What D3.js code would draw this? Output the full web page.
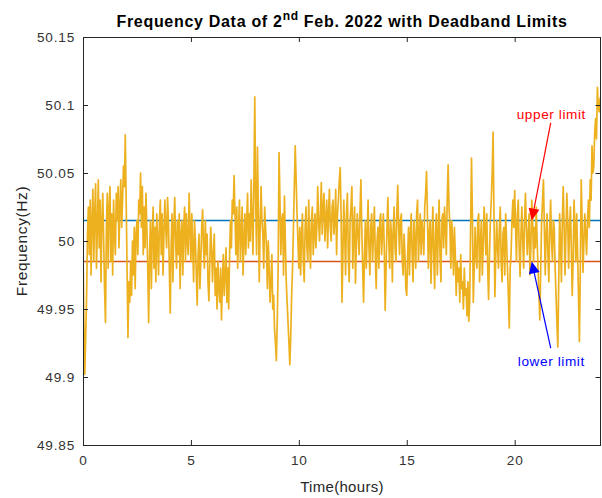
<!DOCTYPE html>
<html>
<head>
<meta charset="utf-8">
<script src="https://cdn.jsdelivr.net/npm/d3@7"></script>
<style>
  html, body { margin: 0; padding: 0; background: #fff; }
  svg { display: block; font-family: "Liberation Sans", Arial, Helvetica, sans-serif; }
</style>
</head>
<body>
<svg id="chart" width="602" height="498"></svg>
<script>
// ---------- data ----------
const titleMain = "Frequency Data of 2";
const titleSup = "nd";
const titleRest = " Feb. 2022 with Deadband Limits";
const xLabel = "Time(hours)";
const yLabel = "Frequency(Hz)";
const xTicks = [0, 5, 10, 15, 20];
const yTicks = [49.85, 49.9, 49.95, 50, 50.05, 50.1, 50.15];
const xDomain = [0, 24];
const yDomain = [49.85, 50.15];
const nominalHz = 50;
const sampleStepHours = 1 / 24; // one sample every 2.5 minutes
// frequency deviation from 50 Hz, in mHz, 24 samples per hour
const freqDevMHz = [
  -5, -60, -98, -70, -40, 5, 25, -10, 30, -25, 15, 38, -15, 20, 42, -20, 10, 45, -5, 30, -30, 15, 35, 0,          // 0 h
  -35, -60, 10, 35, -20, 25, 40, -15, 20, -25, 30, 5, -10, 35, 15, 40, -5, 25, 45, 10, 30, 55, 40, 78,            // 1 h
  30, -20, -71, -30, -45, -15, -40, 0, -25, 10, -35, 5, 15, -10, 30, 20, 50, 10, 40, -10, 25, -5, 35, 10,         // 2 h
  -20, -60, -10, 15, -35, 5, 25, -20, 10, -30, 20, 0, -25, 15, 30, -10, 20, -25, 5, 30, 10, -5, 32, 15,           // 3 h
  -20, -53, -5, 20, -30, 10, 32, 0, -20, 15, -10, 20, -35, 5, 15, -25, 10, 25, -15, 20, 0, -10, 35, 10,           // 4 h
  -15, 20, -5, -30, 15, 0, -25, -47, -10, 5, -35, -15, 10, 23, -5, -20, 15, -10, 5, -30, -44, -15, 10, -5,        // 5 h
  -30, -10, 5, -40, -20, -50, -15, -35, -45, -20, -58, -30, -10, -40, -25, -5, -45, -20, -50, -10, 15, -5, 30, 20, // 6 h
  48, 20, -10, 25, -20, 10, 30, -15, 5, 25, -25, 0, 20, -10, 15, 35, -5, 20, 0, 45, 15, -10, 40, 106,             // 7 h
  30, -10, 69, 20, -30, 10, 40, 15, 5, -20, 25, 10, -5, -35, 0, -20, -45, -30, -10, -50, -40, -65, -75, -88,      // 8 h
  -60, -20, 65, 30, -10, 15, 20, -25, 33, 0, -30, -45, -60, -75, -91, -70, -40, -20, 10, 40, 70, 45, 20, 0,       // 9 h
  -20, 10, -25, 5, 20, -15, -30, 10, 25, -5, -15, 30, 0, -20, 15, 25, -10, 5, 20, -5, 10, 40, 15, 0,              // 10 h
  20, 43, 5, 25, 35, 0, 15, 30, -5, 20, 38, 10, 0, 25, 30, 5, 15, 38, -10, 20, 30, 45, 54, 20,                    // 11 h
  -45, -10, 30, 5, -25, 20, 35, -10, -30, 15, 25, 40, -20, 10, 25, -31, 0, 20, 5, -10, 20, 45, 10, -20,           // 12 h
  -45, -10, 15, -20, 5, 30, -5, -25, 10, 20, -15, 5, 25, -10, -35, 0, 10, -20, 15, 20, -10, 5, 20, -5,            // 13 h
  -51, -20, 10, 32, 0, -20, 15, 5, -30, 10, 25, -5, -15, 20, 41, 10, -10, 15, 20, -15, -25, 5, -10, -35,          // 14 h
  -40, -10, 10, -25, 5, 20, -10, -30, 15, 0, -20, 20, 30, -15, 5, 20, -10, 15, 5, -10, 25, 35, 51, 20,            // 15 h
  -20, 5, 15, -31, 0, 25, -10, -35, 10, 20, -25, 5, 30, -10, -30, 15, 20, -5, 25, 10, -10, 30, 56, 25,            // 16 h
  10, -20, 15, 0, -25, 10, -10, -40, -15, -30, -20, -45, -10, -35, -30, -50, -20, -40, -35, -55, -30, -59, -45, 10, // 17 h
  61, 20, -45, -20, 10, -10, -20, 15, 20, -30, 0, 15, -25, -5, 25, 10, -10, 20, -20, -43, -10, 15, 30, 50,        // 18 h
  80, 20, -41, -10, 15, -5, -20, 10, 25, -15, -30, 5, 10, -25, 20, 0, -20, -40, -64, -20, -10, 15, 30, 10,        // 19 h
  37, 10, -15, 20, 30, -5, -26, 5, 25, 0, -20, 15, 35, 10, -10, 5, 20, -25, -5, 30, 15, -15, 10, -5,              // 20 h
  25, 0, -20, -40, -58, -20, 15, 30, 45, 10, -25, 5, 20, -10, -30, 10, 30, 0, -15, 15, 10, -20, -40, -60,         // 21 h
  -78, -30, 20, 0, -30, 15, 40, 10, -25, 5, 35, 15, -20, 10, 25, -5, -40, -15, 30, 10, -15, 20, -10, -40,         // 22 h
  -74, -20, 45, 15, -23, 0, 20, 5, -10, 15, 30, 10, 45, 30, 70, 50, 55, 80, 90, 75, 113, 100, 95, 105,            // 23 h
  100
];
const upperLimit = 50.015;
const lowerLimit = 49.985;
const annotationText = ["upper limit", "lower limit"];
const annotationTextX = [21.7, 21.7];
const annotationTextY = [50.0897, 49.908];
const arrowTailX = [21.67, 21.67];
const arrowTailY = [50.0868, 49.9213];
const arrowHeadX = [20.79, 20.79];
const arrowHeadY = [50.015, 49.985];
const annotationColor = ["#ff0000", "#0000ff"];

// ---------- drawing ----------
const svg = d3.select("#chart");
const W = 602, H = 498;
const margin = { left: 83, right: 1, top: 37, bottom: 53 };
const x = d3.scaleLinear().domain(xDomain).range([margin.left, W - margin.right]);
const y = d3.scaleLinear().domain(yDomain).range([H - margin.bottom, margin.top]);
const axisColor = "#262626";

const series = freqDevMHz.map((d, i) => ({ t: i * sampleStepHours, f: nominalHz + d / 1000 }));

svg.append("defs").append("clipPath").attr("id", "clip")
  .append("rect").attr("x", x(xDomain[0])).attr("y", y(yDomain[1]))
  .attr("width", x(xDomain[1]) - x(xDomain[0])).attr("height", y(yDomain[0]) - y(yDomain[1]));

const plot = svg.append("g").attr("clip-path", "url(#clip)");

// deadband limits (drawn first: the trace lies over them)
plot.append("line")
  .attr("x1", x(xDomain[0])).attr("x2", x(xDomain[1]))
  .attr("y1", y(upperLimit)).attr("y2", y(upperLimit))
  .attr("stroke", "#0072BD").attr("stroke-width", 1.5);
plot.append("line")
  .attr("x1", x(xDomain[0])).attr("x2", x(xDomain[1]))
  .attr("y1", y(lowerLimit)).attr("y2", y(lowerLimit))
  .attr("stroke", "#D95319").attr("stroke-width", 1.5);

// frequency trace
plot.append("path")
  .datum(series)
  .attr("fill", "none")
  .attr("stroke", "#EDB120")
  .attr("stroke-width", 1.7)
  .attr("stroke-linejoin", "round")
  .attr("d", d3.line().x(d => x(d.t)).y(d => y(d.f)));

// axes (ticks inward, box on)
const fmt = d => String(+d.toFixed(2));
const tickLen = 5;
const styleAxis = g => {
  g.select(".domain").remove();
  g.selectAll(".tick line").attr("stroke", axisColor).attr("stroke-width", 1);
  g.selectAll(".tick text").attr("fill", "#333")
    .style("font-size", "13.6px").style("letter-spacing", "0.8px")
    .style("font-family", "'Liberation Sans', Arial, sans-serif");
};
svg.append("g").attr("transform", `translate(0,${y(yDomain[0])})`)
  .call(d3.axisBottom(x).tickValues(xTicks).tickFormat(fmt).tickSize(-tickLen).tickPadding(10))
  .call(styleAxis);
svg.append("g").attr("transform", `translate(0,${y(yDomain[1])})`)
  .call(d3.axisTop(x).tickValues(xTicks).tickFormat("").tickSize(-tickLen))
  .call(styleAxis);
svg.append("g").attr("transform", `translate(${x(xDomain[0])},0)`)
  .call(d3.axisLeft(y).tickValues(yTicks).tickFormat(fmt).tickSize(-tickLen).tickPadding(8))
  .call(styleAxis);
svg.append("g").attr("transform", `translate(${x(xDomain[1]) - 0.5},0)`)
  .call(d3.axisRight(y).tickValues(yTicks).tickFormat("").tickSize(-tickLen))
  .call(styleAxis);

svg.append("rect")
  .attr("x", x(xDomain[0]) + 0.5).attr("y", y(yDomain[1]) + 0.5)
  .attr("width", x(xDomain[1]) - x(xDomain[0]) - 1)
  .attr("height", y(yDomain[0]) - y(yDomain[1]))
  .attr("fill", "none").attr("stroke", axisColor).attr("stroke-width", 1);

// title
const title = svg.append("text")
  .attr("x", (x(xDomain[0]) + x(xDomain[1])) / 2).attr("y", 27)
  .attr("text-anchor", "middle").attr("fill", "#000")
  .style("font-size", "16px").style("font-weight", "bold").style("letter-spacing", "0.7px");
title.append("tspan").text(titleMain);
title.append("tspan").attr("dy", -7).style("font-size", "12px").text(titleSup);
title.append("tspan").attr("dy", 7).text(titleRest);

// axis labels
svg.append("text")
  .attr("x", (x(xDomain[0]) + x(xDomain[1])) / 2).attr("y", 492)
  .attr("text-anchor", "middle").attr("fill", axisColor)
  .style("font-size", "15px").style("letter-spacing", "0.3px").text(xLabel);
svg.append("text")
  .attr("transform", `translate(27,${(y(yDomain[0]) + y(yDomain[1])) / 2}) rotate(-90)`)
  .attr("text-anchor", "middle").attr("fill", axisColor)
  .style("font-size", "15.5px").style("letter-spacing", "0.6px").text(yLabel);

// annotations
annotationText.forEach((txt, i) => {
  const x0 = x(arrowTailX[i]), y0 = y(arrowTailY[i]);
  const x1 = x(arrowHeadX[i]), y1 = y(arrowHeadY[i]);
  const ang = Math.atan2(y1 - y0, x1 - x0);
  const headLen = 12, headW = 5.5;
  const bx = x1 - headLen * Math.cos(ang), by = y1 - headLen * Math.sin(ang);
  svg.append("line")
    .attr("x1", x0).attr("y1", y0).attr("x2", bx).attr("y2", by)
    .attr("stroke", annotationColor[i]).attr("stroke-width", 1.2);
  const px = -Math.sin(ang), py = Math.cos(ang);
  svg.append("polygon")
    .attr("points", [[x1, y1], [bx + headW * px, by + headW * py], [bx - headW * px, by - headW * py]].map(p => p.join(",")).join(" "))
    .attr("fill", annotationColor[i]);
  svg.append("text")
    .attr("x", x(annotationTextX[i])).attr("y", y(annotationTextY[i]))
    .attr("text-anchor", "middle").attr("fill", annotationColor[i])
    .style("font-size", "13.6px").style("letter-spacing", "0.6px").text(txt);
});
</script>
</body>
</html>
